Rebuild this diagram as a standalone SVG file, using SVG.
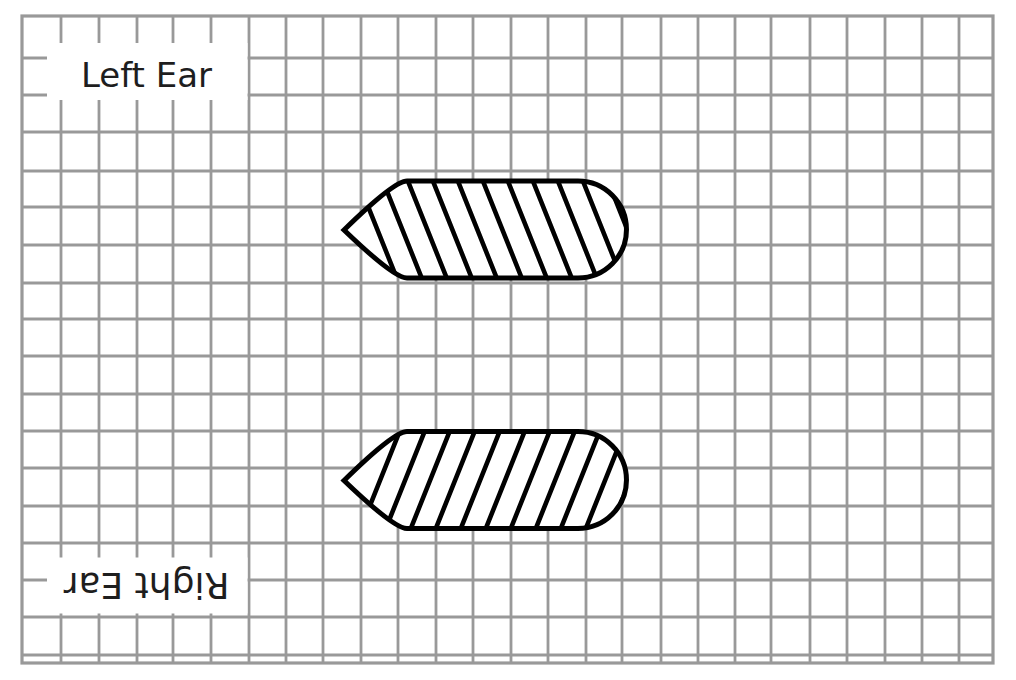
<svg xmlns="http://www.w3.org/2000/svg" xmlns:xlink="http://www.w3.org/1999/xlink" width="1016" height="680" viewBox="0 0 1016 680">
<style>
.grid{fill:none;stroke:#999999;stroke-width:2.8}
.border{fill:none;stroke:#999999;stroke-width:3.2}
.mask{fill:#ffffff;stroke:none}
.lbl{font-family:"DejaVu Sans","Liberation Sans",sans-serif;fill:#1e1e1e}
.shape{fill:#ffffff;stroke:none}
.outline{fill:none;stroke:#000000;stroke-width:5;stroke-linejoin:miter}
.hatch{fill:none;stroke:#000000;stroke-width:4.6}
</style>
<defs>
<path id="earShape" d="M344,230 Q394,181 407,181 L578,181 A48.5,48.5 0 0 1 578,278 L407,278 Q394,278 344,230 Z"/>
<clipPath id="earClip"><use xlink:href="#earShape"/></clipPath>
</defs>
<rect x="0" y="0" width="1016" height="680" fill="#ffffff"/>
<g id="grid">
<path class="grid" d="M61,16V663 M99,16V663 M137,16V663 M173,16V663 M211,16V663 M249,16V663 M286,16V663 M323,16V663 M361,16V663 M398,16V663 M436,16V663 M473,16V663 M511,16V663 M548,16V663 M586,16V663 M622,16V663 M661,16V663 M698,16V663 M735,16V663 M771,16V663 M810,16V663 M847,16V663 M885,16V663 M922,16V663 M959,16V663"/>
<path class="grid" d="M22,58H993 M22,95H993 M22,132H993 M22,171H993 M22,207H993 M22,245H993 M22,283H993 M22,319H993 M22,356H993 M22,394H993 M22,431H993 M22,468H993 M22,506H993 M22,543H993 M22,580H993 M22,617H993 M22,655H993"/>
<rect class="border" x="22" y="16" width="971" height="647"/>
</g>
<g id="label-left-ear">
<rect class="mask" x="47" y="43" width="200.5" height="57"/>
<text class="lbl" x="146.5" y="86.5" font-size="34" text-anchor="middle">Left Ear</text>
</g>
<g id="label-right-ear">
<rect class="mask" x="47" y="557.5" width="200.5" height="56"/>
<text class="lbl" x="146.5" y="600" font-size="36" text-anchor="middle" transform="rotate(180 146.5 586.5)">Right Ear</text>
</g>
<g id="left-ear">
<use xlink:href="#earShape" class="shape"/>
<path class="hatch" clip-path="url(#earClip)" d="M353.5,170L401.5,290 M378.5,170L426.5,290 M403.5,170L451.5,290 M428.5,170L476.5,290 M453.5,170L501.5,290 M478.5,170L526.5,290 M503.5,170L551.5,290 M528.5,170L576.5,290 M553.5,170L601.5,290 M578.5,170L626.5,290 M603.5,170L651.5,290"/>
<use xlink:href="#earShape" class="outline"/>
</g>
<g id="right-ear" transform="translate(0,250.5)">
<use xlink:href="#earShape" class="shape"/>
<path class="hatch" clip-path="url(#earClip)" d="M404,170L356,290 M429,170L381,290 M454,170L406,290 M479,170L431,290 M504,170L456,290 M529,170L481,290 M554,170L506,290 M579,170L531,290 M604,170L556,290 M629,170L581,290 M654,170L606,290"/>
<use xlink:href="#earShape" class="outline"/>
</g>
<g id="connectors"/>
</svg>
